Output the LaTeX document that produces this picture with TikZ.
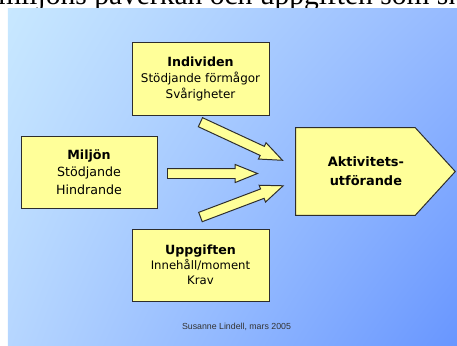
\documentclass[tikz,border=0pt]{standalone}
\usepackage{fontspec}
\setmainfont{DejaVu Sans}
\newfontfamily\footfont{Liberation Sans}
\newfontfamily\headfont{Liberation Serif}
\usetikzlibrary{shapes.arrows,shadings}

\definecolor{boxyellow}{RGB}{255,255,153}
\definecolor{edgegray}{RGB}{45,45,45}
\definecolor{bgul}{RGB}{200,232,255}
\definecolor{bgur}{RGB}{150,186,255}
\definecolor{bgll}{RGB}{182,214,255}
\definecolor{bglr}{RGB}{104,150,255}

\newcommand\boxhead[1]{{\fontsize{9}{11}\selectfont\bfseries #1}}

\tikzset{
  yellowbox/.style={draw=edgegray,fill=boxyellow,line width=0.7pt},
  blockarrow/.style={single arrow,yellowbox,
    inner xsep=0pt,inner ysep=0.1125cm,single arrow head extend=0.1cm,
    single arrow tip angle=44,anchor=tail},
}

\begin{document}
\begin{tikzpicture}

      \useasboundingbox (0,0) rectangle (11.425,-8.625);
      \clip (0,0) rectangle (11.425,-8.625);

      \node[anchor=base west,inner sep=0,font=\headfont\fontsize{21}{21}\selectfont] (head) at (-0.05,-0.1) {miljöns påverkan och uppgiften som ska};

      \shade[upper left=bgul,upper right=bgur,lower left=bgll,lower right=bglr] (0.2,-0.2) rectangle (11.425,-8.625);

      \begin{scope}[every node/.style={yellowbox,align=center,inner sep=0pt}]
        \node[minimum width=3.425cm,minimum height=1.825cm,font=\fontsize{8.5}{11.4}\selectfont] (ind) at (5.0125,-1.9625) {\boxhead{Individen}\\Stödjande förmågor\\Svårigheter};
        \node[minimum width=3.4cm,minimum height=1.8cm,font=\fontsize{9}{12.4}\selectfont] (milj) at (2.225,-4.3) {\boxhead{Miljön}\\Stödjande\\Hindrande};
        \node[minimum width=3.425cm,minimum height=1.8cm,font=\fontsize{8.3}{10.7}\selectfont] (upp) at (5.0125,-6.625) {\boxhead{Uppgiften}\\Innehåll/moment\\Krav};
      \end{scope}

      % pentagon: body node, point drawn from its anchors
      \node[minimum width=2.975cm,minimum height=2.175cm,inner sep=0pt] (akt) at (8.8875,-4.2875) {};
      \draw[yellowbox] (akt.north west) -- (akt.north east) -- ([xshift=1cm]akt.east)
        -- (akt.south east) -- (akt.south west) -- cycle;
      \node[align=center,font=\fontsize{9.2}{13.5}\selectfont\bfseries] (akttext) at ([xshift=0.26cm]akt.center) {Aktivitets-\\utförande};

      \node[blockarrow,minimum height=2.26cm,rotate=-24.9] (a1) at (5.0,-3.05) {};
      \node[blockarrow,minimum height=2.25cm] (a2) at (4.175,-4.3375) {};
      \node[blockarrow,minimum height=2.21cm,rotate=20.7] (a3) at (5.0,-5.43) {};

      \node[font=\footfont\fontsize{6.25}{7}\selectfont,text=black!80] (sign) at (5.9125,-8.175) {Susanne Lindell, mars 2005};

    \end{tikzpicture}
\end{document}
